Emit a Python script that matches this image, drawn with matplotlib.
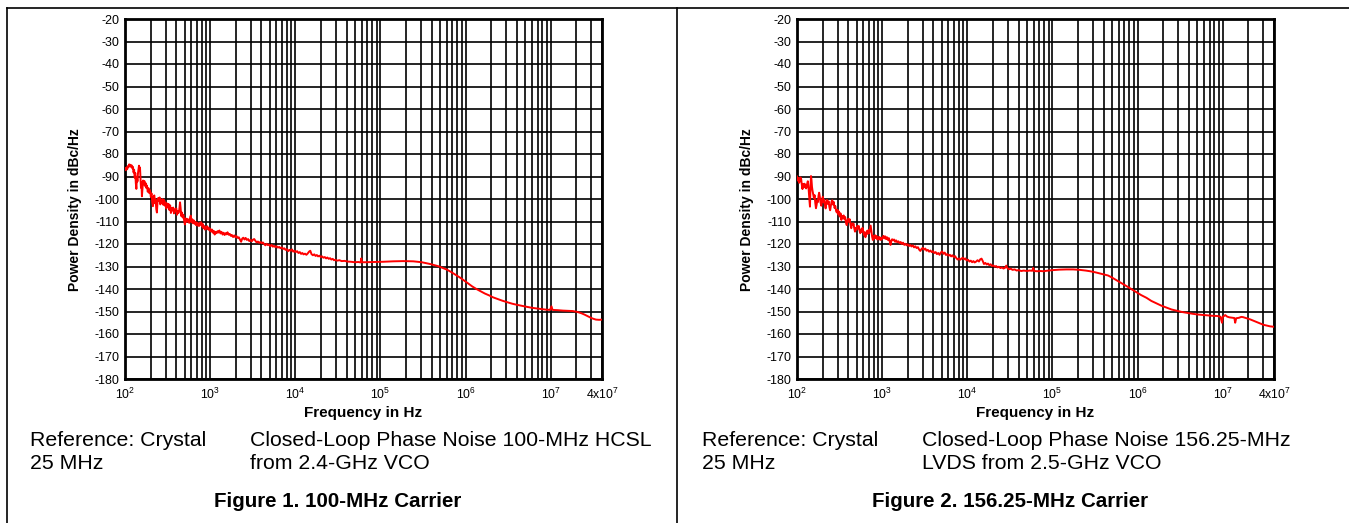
import matplotlib
matplotlib.use('Agg')
import matplotlib.pyplot as plt
from matplotlib.lines import Line2D
from matplotlib.ticker import FixedLocator, NullFormatter

plt.rcParams['font.family'] = ['Liberation Sans', 'DejaVu Sans']
plt.rcParams['axes.unicode_minus'] = False
plt.rcParams['mathtext.fontset'] = 'custom'
plt.rcParams['mathtext.rm'] = 'Liberation Sans'
plt.rcParams['mathtext.it'] = 'Liberation Sans:italic'
plt.rcParams['mathtext.bf'] = 'Liberation Sans:bold'

# Figure 1: 100-MHz carrier, (offset Hz, dBc/Hz)
curve1 = [
    (100, -86.5), (102, -87.2), (104, -86.0), (106, -86.8), (108, -85.4), (110, -85.9),
    (112, -84.6), (114, -85.3), (116, -84.8), (118, -85.8), (120, -85.1), (122, -86.4),
    (124, -85.7), (126, -88.2), (128, -87.0), (130, -90.5), (132, -88.4), (134, -93.0),
    (136, -95.5), (138, -90.1), (140, -92.2), (142, -88.6), (144, -86.9), (146, -85.2),
    (148, -87.5), (150, -86.0), (152, -91.0), (154, -95.0), (156, -92.4), (158, -98.8),
    (160, -96.0), (163, -91.8), (166, -93.5), (169, -92.0), (172, -94.2), (175, -93.0),
    (178, -95.1), (181, -94.0), (185, -96.8), (189, -95.2), (193, -97.4), (197, -96.1),
    (201, -99.0), (205, -97.5), (209, -101.5), (213, -103.2), (217, -99.0), (221, -98.4),
    (225, -101.9), (229, -100.2), (233, -104.5), (237, -106.0), (241, -101.2), (245, -99.6),
    (250, -100.8), (255, -99.3), (260, -102.4), (265, -100.6), (270, -101.8), (276, -100.0),
    (282, -102.6), (288, -100.4), (294, -103.0), (300, -101.6), (306, -104.2), (312, -102.0),
    (318, -103.5), (325, -102.2), (332, -104.9), (339, -102.8), (346, -106.2), (353, -104.0),
    (360, -105.1), (368, -103.8), (376, -106.4), (384, -104.6), (392, -105.5), (400, -104.2),
    (408, -107.0), (416, -105.3), (425, -106.2), (434, -104.8), (443, -101.5), (450, -104.0),
    (458, -107.6), (466, -106.0), (475, -108.2), (485, -107.0), (495, -109.5), (505, -111.3),
    (515, -108.6), (525, -110.2), (535, -108.8), (546, -110.0), (557, -109.1), (568, -110.6),
    (580, -108.5), (592, -107.4), (604, -110.3), (616, -109.0), (629, -110.8), (642, -109.5),
    (655, -111.0), (668, -110.2), (682, -111.6), (696, -110.4), (710, -111.8), (725, -110.9),
    (740, -112.0), (755, -110.6), (770, -111.4), (786, -110.3), (802, -112.2), (818, -111.1),
    (835, -113.0), (852, -112.0), (870, -113.6), (888, -112.4), (906, -113.2), (925, -112.1),
    (944, -113.5), (964, -112.8), (984, -114.0), (1005, -113.2), (1030, -114.5), (1055, -113.6),
    (1080, -115.0), (1105, -114.2), (1130, -115.8), (1160, -114.6), (1190, -115.2),
    (1220, -114.3), (1250, -114.9), (1285, -114.0), (1320, -115.3), (1360, -114.6),
    (1400, -115.8), (1440, -115.0), (1480, -116.0), (1520, -115.2), (1560, -115.7),
    (1600, -114.8), (1650, -115.9), (1700, -115.5), (1750, -116.4), (1800, -116.0),
    (1860, -116.9), (1920, -116.2), (1980, -117.0), (2040, -116.5), (2100, -117.3),
    (2170, -117.0), (2240, -118.0), (2310, -119.0), (2380, -117.6), (2450, -117.2),
    (2530, -118.0), (2610, -117.3), (2700, -118.2), (2790, -117.8), (2880, -118.7),
    (2980, -118.2), (3080, -118.8), (3180, -118.1), (3290, -117.8), (3400, -118.6),
    (3520, -119.3), (3640, -118.9), (3760, -119.5), (3890, -119.1), (4020, -119.7),
    (4160, -119.3), (4300, -120.0), (4450, -120.6), (4600, -119.9), (4760, -120.5),
    (4920, -120.2), (5090, -121.0), (5270, -120.4), (5450, -121.2), (5640, -120.8),
    (5840, -121.4), (6040, -121.0), (6250, -121.6), (6470, -121.3), (6700, -121.9),
    (6930, -121.5), (7170, -122.2), (7420, -121.9), (7680, -122.6), (7950, -122.3),
    (8230, -123.2), (8520, -122.6), (8820, -123.0), (9130, -122.4), (9450, -123.4),
    (9780, -123.0), (10100, -123.6), (10500, -123.2), (10900, -124.0), (11300, -123.6),
    (11700, -124.4), (12100, -124.0), (12500, -124.6), (13000, -124.3), (13500, -124.8),
    (14000, -124.2), (14500, -123.4), (15000, -123.0), (15500, -124.5), (16100, -125.0),
    (16700, -124.6), (17300, -125.3), (17900, -124.9), (18500, -125.5), (19200, -125.2),
    (19900, -125.8), (20600, -125.5), (21400, -126.1), (22200, -125.8), (23000, -126.4),
    (23800, -126.0), (24700, -126.6), (25600, -126.3), (26500, -126.9), (27500, -126.6),
    (28500, -127.2), (29500, -127.0), (31000, -127.4), (33000, -127.2), (35000, -127.6),
    (38000, -127.5), (41000, -127.8), (45000, -127.9), (50000, -128.1), (55000, -128.0),
    (58500, -128.2), (59500, -126.4), (60500, -128.1), (66000, -128.1), (82500, -128.0),
    (107000, -127.9), (141000, -127.7), (185000, -127.6), (243000, -127.7), (305000, -128.1),
    (384000, -128.9), (481000, -129.9), (604000, -131.4), (680000, -132.5), (758000, -133.6),
    (850000, -134.8), (951000, -136.1), (1.07e6, -137.5), (1.19e6, -138.8), (1.34e6, -140.0),
    (1.5e6, -141.0), (1.68e6, -142.0), (1.88e6, -142.8), (2.1e6, -143.7), (2.36e6, -144.4),
    (2.7e6, -145.2), (3.1e6, -145.9), (3.5e6, -146.5), (3.98e6, -147.0), (4.6e6, -147.5),
    (5.2e6, -147.9), (5.9e6, -148.3), (6.7e6, -148.6), (7.8e6, -148.9), (8.9e6, -149.2),
    (9.8e6, -149.3), (1.02e7, -147.7), (1.05e7, -149.3), (1.2e7, -149.4), (1.39e7, -149.6),
    (1.6e7, -149.7), (1.81e7, -149.8), (2.06e7, -150.2), (2.3e7, -150.8), (2.5e7, -151.4),
    (2.75e7, -152.2), (3.0e7, -152.9), (3.2e7, -153.3), (3.4e7, -153.6), (3.7e7, -153.7),
    (4.0e7, -153.6),
]

# Figure 2: 156.25-MHz carrier
curve2 = [
    (100, -90.0), (102, -91.8), (104, -90.6), (106, -92.8), (108, -91.5), (110, -90.4),
    (112, -91.2), (114, -93.8), (116, -95.6), (118, -93.4), (120, -94.5), (122, -93.2),
    (124, -94.8), (126, -93.6), (128, -95.3), (130, -94.6), (132, -93.0), (134, -92.1),
    (136, -94.0), (138, -97.5), (140, -100.6), (142, -103.4), (144, -95.0), (146, -89.8),
    (148, -91.5), (150, -94.6), (152, -96.2), (155, -97.8), (158, -99.6), (161, -98.3),
    (164, -101.8), (167, -104.1), (170, -102.6), (173, -100.5), (176, -101.4), (179, -98.5),
    (182, -97.2), (185, -98.8), (189, -101.6), (193, -103.0), (197, -100.2), (201, -99.0),
    (205, -101.5), (209, -100.3), (213, -102.8), (217, -104.2), (221, -101.6), (225, -100.4),
    (230, -102.2), (235, -101.0), (240, -103.5), (245, -105.0), (250, -103.0), (255, -101.0),
    (260, -100.6), (265, -102.5), (270, -101.3), (276, -104.0), (282, -103.1), (288, -105.4),
    (294, -106.0), (300, -104.8), (306, -106.9), (312, -105.6), (318, -107.8), (325, -106.4),
    (332, -109.3), (339, -107.5), (346, -108.4), (353, -107.3), (360, -109.0), (368, -108.0),
    (376, -110.6), (384, -111.6), (392, -109.4), (400, -108.8), (408, -110.2), (416, -109.0),
    (425, -111.5), (434, -113.0), (443, -110.8), (452, -111.6), (461, -110.9), (470, -113.0),
    (480, -114.5), (490, -112.8), (500, -113.6), (510, -112.0), (520, -113.1), (531, -112.0),
    (542, -114.0), (553, -115.2), (564, -113.5), (575, -114.6), (587, -112.8), (599, -114.2),
    (611, -116.0), (623, -114.8), (636, -117.0), (649, -115.6), (662, -114.2), (676, -115.5),
    (690, -113.8), (704, -115.2), (718, -113.6), (733, -111.8), (748, -114.4), (763, -116.8),
    (778, -118.2), (794, -116.4), (810, -117.6), (826, -116.1), (843, -117.4), (860, -116.5),
    (878, -118.0), (896, -117.0), (914, -117.8), (933, -116.9), (952, -118.2), (972, -117.3),
    (992, -118.0), (1012, -117.1), (1035, -116.4), (1060, -117.5), (1085, -116.6),
    (1110, -117.8), (1140, -117.0), (1170, -118.2), (1200, -117.4), (1230, -119.0),
    (1255, -120.4), (1280, -118.6), (1310, -117.9), (1340, -118.4), (1380, -118.0),
    (1420, -119.0), (1460, -118.4), (1500, -119.2), (1550, -118.8), (1600, -119.6),
    (1650, -119.1), (1700, -120.0), (1760, -119.4), (1820, -120.4), (1880, -119.9),
    (1940, -120.6), (2000, -120.1), (2070, -120.9), (2140, -120.4), (2210, -121.1),
    (2290, -120.6), (2370, -121.5), (2450, -121.0), (2540, -121.8), (2630, -121.4),
    (2720, -122.5), (2810, -123.1), (2900, -122.2), (3000, -121.7), (3100, -122.5),
    (3210, -122.0), (3320, -123.0), (3440, -122.6), (3560, -123.4), (3690, -122.9),
    (3820, -123.6), (3960, -123.2), (4100, -124.0), (4250, -123.6), (4400, -124.5),
    (4560, -124.0), (4720, -124.8), (4890, -123.8), (5060, -123.3), (5240, -124.4),
    (5430, -123.8), (5620, -124.9), (5820, -124.5), (6030, -125.2), (6240, -124.8),
    (6460, -125.5), (6690, -125.0), (6930, -125.8), (7180, -125.4), (7440, -126.3),
    (7700, -126.9), (7970, -126.4), (8250, -127.0), (8540, -126.5), (8840, -126.1),
    (9150, -126.8), (9480, -126.4), (9810, -127.3), (10200, -127.0), (10600, -127.8),
    (11000, -127.4), (11400, -128.1), (11800, -127.6), (12200, -128.2), (12700, -127.8),
    (13200, -127.2), (13700, -127.8), (14200, -126.8), (14700, -126.5), (15200, -127.6),
    (15700, -128.9), (16300, -128.4), (16900, -129.1), (17500, -128.7), (18100, -129.4),
    (18800, -129.0), (19500, -129.8), (20200, -129.5), (21000, -130.1), (21800, -129.8),
    (22600, -130.4), (23500, -130.1), (24500, -130.7), (25500, -130.4), (26600, -130.9),
    (27700, -130.6), (28700, -129.6), (29700, -130.8), (31000, -131.2), (32500, -131.0),
    (34000, -131.5), (36000, -131.3), (38000, -131.8), (40000, -131.6), (43000, -132.0),
    (46000, -131.8), (50000, -132.0), (54000, -131.8), (58000, -131.9), (59500, -130.6),
    (61000, -132.0), (66000, -132.1), (72000, -132.0), (78000, -132.1), (90000, -131.8),
    (102000, -131.6), (120000, -131.4), (146000, -131.3), (175000, -131.3), (210000, -131.5),
    (245000, -131.8), (276000, -132.1), (320000, -132.6), (360000, -133.1), (400000, -133.5),
    (450000, -134.0), (500000, -134.9), (567000, -136.1), (640000, -137.3), (740000, -138.7),
    (850000, -140.1), (970000, -141.4), (1.1e6, -142.7), (1.27e6, -143.9), (1.45e6, -145.3),
    (1.67e6, -146.4), (1.9e6, -147.4), (2.2e6, -148.3), (2.5e6, -149.1), (2.9e6, -149.7),
    (3.3e6, -150.2), (3.8e6, -150.6), (4.4e6, -151.0), (5.0e6, -151.3), (5.7e6, -151.5),
    (6.5e6, -151.7), (7.5e6, -151.9), (8.6e6, -152.0), (9.4e6, -152.3), (9.8e6, -155.0),
    (1.0e7, -152.4), (1.07e7, -151.6), (1.13e7, -152.3), (1.2e7, -152.6), (1.3e7, -152.8),
    (1.37e7, -152.9), (1.4e7, -155.0), (1.44e7, -153.0), (1.55e7, -152.8), (1.65e7, -152.4),
    (1.73e7, -152.5), (1.9e7, -153.0), (2.1e7, -153.5), (2.4e7, -154.4), (2.74e7, -155.3),
    (3.0e7, -155.9), (3.26e7, -156.2), (3.6e7, -156.6), (4.0e7, -156.8),
]

yticks = list(range(-180, -10, 10))
xmajor = [1e2, 1e3, 1e4, 1e5, 1e6, 1e7, 4e7]
xlabels = [r'$\mathregular{10^{2}}$', r'$\mathregular{10^{3}}$', r'$\mathregular{10^{4}}$',
           r'$\mathregular{10^{5}}$', r'$\mathregular{10^{6}}$', r'$\mathregular{10^{7}}$',
           r'$\mathregular{4x10^{7}}$']
xminor = [m * 10 ** e for e in range(2, 8) for m in range(2, 10) if m * 10 ** e < 4e7]

captions = [
    (['Reference: Crystal', '25 MHz'],
     ['Closed-Loop Phase Noise 100-MHz HCSL', 'from 2.4-GHz VCO'],
     'Figure 1. 100-MHz Carrier'),
    (['Reference: Crystal', '25 MHz'],
     ['Closed-Loop Phase Noise 156.25-MHz', 'LVDS from 2.5-GHz VCO'],
     'Figure 2. 156.25-MHz Carrier'),
]

W, H = 1349, 523
fig = plt.figure(figsize=(W / 100, H / 100), dpi=100)

# table frame
fig.add_artist(Line2D([6.5 / W, 1], [1 - 8 / H, 1 - 8 / H], color='black', lw=1.2))
fig.add_artist(Line2D([6.5 / W, 6.5 / W], [0, 1 - 8 / H], color='black', lw=1.2))
fig.add_artist(Line2D([677 / W, 677 / W], [0, 1 - 8 / H], color='black', lw=1.2))

ax_w, ax_h = 477 / W, 360 / H
for i, curve in enumerate([curve1, curve2]):
    f = [c[0] for c in curve]
    p = [c[1] for c in curve]
    x0 = 125 + 672 * i
    ax = fig.add_axes([x0 / W, 1 - 379 / H, ax_w, ax_h])
    ax.plot(f, p, color='#ff0000', lw=1.4, zorder=3)
    ax.set_xscale('log')
    ax.set_xlim(1e2, 4e7)
    ax.set_ylim(-180, -20)
    ax.set_yticks(yticks)
    ax.xaxis.set_major_locator(FixedLocator(xmajor))
    ax.set_xticklabels(xlabels)
    ax.xaxis.set_minor_locator(FixedLocator(xminor))
    ax.xaxis.set_minor_formatter(NullFormatter())
    ax.tick_params(which='both', length=0)
    ax.tick_params(axis='y', pad=4, labelsize=9)
    ax.tick_params(axis='x', pad=5.5, labelsize=8.8)
    ax.grid(which='both', color='black', lw=1.2)
    for s in ax.spines.values():
        s.set_linewidth(2)
    ax.set_ylabel('Power Density in dBc/Hz', fontsize=10, fontweight='bold')
    ax.yaxis.set_label_coords(-43 / 477, 0.47)
    ax.set_xlabel('Frequency in Hz', fontsize=11, fontweight='bold')
    ax.xaxis.set_label_coords(0.5, -0.074)

    ref, title, fig_cap = captions[i]
    for k, base in enumerate([446, 469]):
        fig.text((30 + 672 * i) / W, 1 - base / H, ref[k], fontsize=15.3, va='baseline')
        fig.text((250 + 672 * i) / W, 1 - base / H, title[k], fontsize=15.3, va='baseline')
    fig.text((338 + 672 * i) / W, 1 - 507 / H, fig_cap, fontsize=14.8, fontweight='bold',
             ha='center', va='baseline')

fig.savefig('out.png', dpi=100)
